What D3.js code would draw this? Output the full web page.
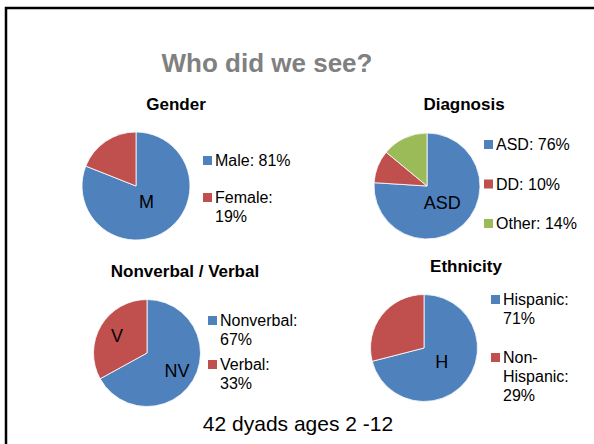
<!DOCTYPE html>
<html>
<head>
<meta charset="utf-8">
<title>Who did we see?</title>
<style>
  body { margin: 0; background: #fff; }
  svg { display: block; font-family: "Liberation Sans", Arial, sans-serif; }
</style>
</head>
<body>
<script src="https://cdnjs.cloudflare.com/ajax/libs/d3/7.8.5/d3.min.js"></script>
<script>
// data
const genderNames = ["Male", "Female"];
const genderValues = [81, 19];
const genderTags = ["M", ""];

const diagnosisNames = ["ASD", "DD", "Other"];
const diagnosisValues = [76, 10, 14];
const diagnosisTags = ["ASD", "", ""];

const verbalNames = ["Nonverbal", "Verbal"];
const verbalValues = [67, 33];
const verbalTags = ["NV", "V"];

const ethnicityNames = ["Hispanic", "Non-Hispanic"];
const ethnicityValues = [71, 29];
const ethnicityTags = ["H", ""];

const colors = ["#4F81BD", "#C0504D", "#9BBB59"];

let width = 594, height = 444;
let svg = d3.select("body").append("svg").attr("width", width).attr("height", height);

// frame (only top and left edges are visible)
svg.append("path")
    .attr("d", "M6,444 L6,8 L594,8")
    .attr("fill", "none")
    .attr("stroke", "#000")
    .attr("stroke-width", 2.5);

svg.append("text")
    .attr("x", 267).attr("y", 72)
    .attr("text-anchor", "middle")
    .attr("font-size", 26).attr("font-weight", "bold")
    .attr("fill", "#808080")
    .text("Who did we see?");

svg.append("text")
    .attr("x", 298).attr("y", 431)
    .attr("text-anchor", "middle")
    .attr("font-size", 21)
    .attr("fill", "#000")
    .text("42 dyads ages 2 -12");

let panels = [
    {title: "Gender", names: genderNames, values: genderValues, tags: genderTags,
     tx: 176, ty: 110, cx: 136, cy: 186, r: 54, tagR: 0.35, lx: 203, ly: 166, gap: 37, maxW: 80},
    {title: "Diagnosis", names: diagnosisNames, values: diagnosisValues, tags: diagnosisTags,
     tx: 464, ty: 110, cx: 427, cy: 186, r: 53, tagR: 0.42, lx: 484, ly: 150, gap: 39.5, maxW: 100},
    {title: "Nonverbal / Verbal", names: verbalNames, values: verbalValues, tags: verbalTags,
     tx: 185, ty: 277, cx: 147, cy: 353, r: 53.5, tagR: 0.65, lx: 208, ly: 326, gap: 44, maxW: 80},
    {title: "Ethnicity", names: ethnicityNames, values: ethnicityValues, tags: ethnicityTags,
     tx: 466, ty: 272, cx: 424, cy: 348, r: 53.5, tagR: 0.42, lx: 491, ly: 305, gap: 58, maxW: 75}
];

let pie = d3.pie().sort(null).value(function(d) { return d.value; });

// greedy wrap, breaking at spaces and after hyphens
function wrapText(str, maxW, size) {
    let probe = svg.append("text").attr("font-size", size).attr("visibility", "hidden");
    let tokens = str.match(/[^\s-]+-?|\s+/g).filter(function(t) { return t.trim() !== ""; });
    let lines = [];
    let cur = "";
    tokens.forEach(function(t) {
        let sep = (cur === "" || cur.endsWith("-")) ? "" : " ";
        let test = cur + sep + t;
        probe.text(test);
        if (cur !== "" && probe.node().getComputedTextLength() > maxW) {
            lines.push(cur);
            cur = t;
        } else {
            cur = test;
        }
    });
    if (cur !== "") lines.push(cur);
    probe.remove();
    return lines;
}

panels.forEach(function(p) {
    let data = p.names.map(function(n, i) {
        return {name: n, value: p.values[i], tag: p.tags[i], color: colors[i]};
    });
    let g = svg.append("g");

    g.append("text")
        .attr("x", p.tx).attr("y", p.ty)
        .attr("text-anchor", "middle")
        .attr("font-size", 17).attr("font-weight", "bold")
        .text(p.title);

    let arc = d3.arc().innerRadius(0).outerRadius(p.r);
    let tagArc = d3.arc().innerRadius(p.r * p.tagR).outerRadius(p.r * p.tagR);
    let arcs = pie(data);

    let pg = g.append("g").attr("transform", "translate(" + p.cx + "," + p.cy + ")");
    pg.selectAll("path")
        .data(arcs)
        .enter()
        .append("path")
        .attr("d", arc)
        .attr("fill", function(d) { return d.data.color; })
        .attr("stroke", "#fff")
        .attr("stroke-width", 0.8);

    pg.selectAll("text")
        .data(arcs.filter(function(d) { return d.data.tag; }))
        .enter()
        .append("text")
        .attr("x", function(d) { return tagArc.centroid(d)[0]; })
        .attr("y", function(d) { return tagArc.centroid(d)[1]; })
        .attr("dy", "0.36em")
        .attr("text-anchor", "middle")
        .attr("font-size", 18)
        .attr("fill", "#000")
        .text(function(d) { return d.data.tag; });

    data.forEach(function(d, i) {
        let y = p.ly + i * p.gap;
        g.append("rect")
            .attr("x", p.lx).attr("y", y - 10)
            .attr("width", 9).attr("height", 9)
            .attr("fill", d.color);
        let lines = wrapText(d.name + ": " + d.value + "%", p.maxW, 16);
        let t = g.append("text")
            .attr("x", p.lx + 12).attr("y", y)
            .attr("font-size", 16);
        lines.forEach(function(line, k) {
            t.append("tspan")
                .attr("x", p.lx + 12)
                .attr("y", y + k * 19)
                .text(line);
        });
    });
});
</script>
</body>
</html>
